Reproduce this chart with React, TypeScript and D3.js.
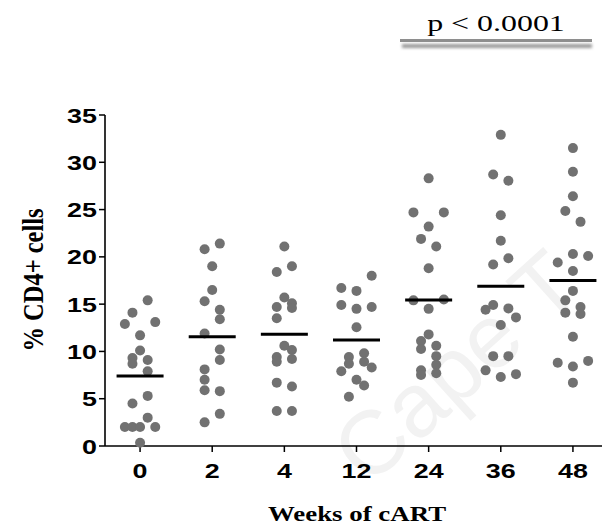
import React from "react";
import * as d3 from "d3";

// Categories (weeks of cART)
const weeks = ["0", "2", "4", "12", "24", "36", "48"];

// % CD4+ cells per patient at each time point
const cd4Week0 = [15.4, 14.1, 12.9, 13.1, 11.7, 10.1, 9.3, 8.7, 9.1, 7.9, 5.3, 4.5, 3.0, 2.0, 2.0, 2.0, 2.0, 0.35];
const cd4Week2 = [21.4, 20.8, 19.0, 16.5, 15.3, 14.4, 13.4, 11.9, 10.2, 9.1, 8.1, 7.0, 5.9, 5.8, 3.4, 2.5];
const cd4Week4 = [21.1, 19.0, 18.4, 15.7, 15.1, 14.6, 14.7, 13.5, 10.6, 10.15, 9.4, 8.9, 9.2, 6.7, 6.3, 3.7, 3.7];
const cd4Week12 = [18.0, 16.7, 16.4, 14.9, 14.7, 14.5, 12.55, 9.8, 9.4, 8.9, 8.7, 8.3, 7.9, 7.0, 6.4, 5.2];
const cd4Week24 = [28.3, 24.7, 24.7, 23.2, 21.9, 21.1, 18.8, 15.4, 15.5, 14.5, 11.8, 11.1, 10.25, 10.6, 9.5, 8.6, 8.0, 7.5, 7.7];
const cd4Week36 = [32.9, 28.7, 28.05, 24.4, 21.7, 19.85, 19.2, 14.9, 14.4, 14.55, 13.6, 12.8, 9.5, 9.5, 8.0, 7.3, 7.6];
const cd4Week48 = [31.5, 29.0, 26.4, 24.85, 23.7, 20.3, 20.1, 19.4, 18.5, 16.4, 15.4, 14.7, 14.1, 13.95, 11.55, 8.8, 9.0, 8.4, 6.7];

// scatter lane (horizontal spread slot) of each point, as in the dot plot
const laneWeek0 = [1, -1, -2, 2, 0, 0, -1, -1, 1, 1, 1, -1, 1, -2, -1, 0, 2, 0];
const laneWeek2 = [1, -1, 0, 0, -1, 1, 1, -1, 1, 1, -1, -1, -1, 1, 1, -1];
const laneWeek4 = [0, 1, -1, 0, 1, 1, -1, -1, 0, 1, -1, -1, 1, -1, 1, -1, 1];
const laneWeek12 = [2, -2, 0, -2, 2, 0, 0, 1, -1, 1, -1, 2, -2, 0, 1, -1];
const laneWeek24 = [0, -2, 2, 0, -1, 1, 0, -2, 2, 0, 0, -1, -1, 1, 1, 1, -1, -1, 1];
const laneWeek36 = [0, -1, 1, 0, 0, 1, -1, -1, -2, 1, 2, 0, -1, 1, -2, 0, 2];
const laneWeek48 = [0, 0, 0, -1, 1, 0, 2, -2, 0, 0, -1, 1, -1, 1, 0, -2, 2, 0, 0];

const yTicks = [0, 5, 10, 15, 20, 25, 30, 35];
const pLabel = "p < 0.0001";
const xTitle = "Weeks of cART";
const yTitle = "% CD4+ cells";
const watermark = "Cape T";

const allValues = [cd4Week0, cd4Week2, cd4Week4, cd4Week12, cd4Week24, cd4Week36, cd4Week48];
const allLanes = [laneWeek0, laneWeek2, laneWeek4, laneWeek12, laneWeek24, laneWeek36, laneWeek48];

const SANS = "'Liberation Sans', Arial, sans-serif";
const SERIF = "'Liberation Serif', 'Times New Roman', serif";
const SX = 1.28; // horizontal stretch of the original figure's text

export default function App() {
  const W = 602;
  const H = 529;
  const x = d3.scalePoint<string>().domain(weeks).range([104, 609]).padding(0.5);
  const y = d3.scaleLinear().domain([0, 35]).range([446, 115]);
  const laneStep = 7.6;
  const meanHalf = 23.5;
  const x0 = 105;

  const groups = weeks.map((w, i) => ({
    week: w,
    values: allValues[i],
    lanes: allLanes[i],
    mean: d3.mean(allValues[i]) as number,
  }));

  return (
    <svg
      width={W}
      height={H}
      style={{ position: "absolute", left: 0, top: 0, display: "block", background: "#fff" }}
    >
      <defs>
        <filter id="blur" x="-10%" y="-200%" width="120%" height="500%">
          <feGaussianBlur stdDeviation="1.6" />
        </filter>
      </defs>

      {/* faint watermark */}
      <text
        transform="translate(368,488) rotate(-42)"
        fontFamily={SANS}
        fontSize={90}
        fill="#f2f2f2"
      >
        {watermark}
      </text>

      {/* p-value annotation */}
      <text
        transform={`translate(496,31) scale(1.33,1)`}
        textAnchor="middle"
        fontFamily={SERIF}
        fontSize={24}
        fill="#000"
      >
        {pLabel}
      </text>
      <rect x={402} y={44} width={190} height={4} fill="#9a9a9a" filter="url(#blur)" />
      <rect x={400} y={39} width={192} height={3} fill="#8e8e8e" />

      {/* y axis */}
      <line x1={x0} x2={x0} y1={y(35)} y2={y(0)} stroke="#000" strokeWidth={1.6} />
      {yTicks.map((t) => (
        <g key={t}>
          <line x1={x0 - 6} x2={x0} y1={y(t)} y2={y(t)} stroke="#000" strokeWidth={1.5} />
          <text
            transform={`translate(97,${y(t)}) scale(${SX},1)`}
            dy="0.36em"
            textAnchor="end"
            fontFamily={SANS}
            fontWeight="bold"
            fontSize={21}
          >
            {t}
          </text>
        </g>
      ))}

      {/* x axis */}
      <line x1={x0} x2={W} y1={y(0)} y2={y(0)} stroke="#000" strokeWidth={1.6} />
      {weeks.map((w) => (
        <g key={w}>
          <line x1={x(w)} x2={x(w)} y1={y(0)} y2={y(0) + 6} stroke="#000" strokeWidth={1.5} />
          <text
            transform={`translate(${x(w)},478) scale(${SX},1)`}
            textAnchor="middle"
            fontFamily={SANS}
            fontWeight="bold"
            fontSize={21}
          >
            {w}
          </text>
        </g>
      ))}

      {/* titles */}
      <text
        transform={`translate(357,521) scale(${SX},1)`}
        textAnchor="middle"
        fontFamily={SERIF}
        fontWeight="bold"
        fontSize={21}
      >
        {xTitle}
      </text>
      <text
        transform={`translate(43,280) rotate(-90) scale(1,1.2)`}
        textAnchor="middle"
        fontFamily={SERIF}
        fontWeight="bold"
        fontSize={24.5}
      >
        {yTitle}
      </text>

      {/* points */}
      {groups.map((g) => (
        <g key={g.week}>
          {g.values.map((v, j) => (
            <circle
              key={j}
              cx={(x(g.week) as number) + g.lanes[j] * laneStep}
              cy={y(v)}
              r={5}
              fill="#717171"
            />
          ))}
          <line
            x1={(x(g.week) as number) - meanHalf}
            x2={(x(g.week) as number) + meanHalf}
            y1={y(g.mean)}
            y2={y(g.mean)}
            stroke="#000"
            strokeWidth={3}
          />
        </g>
      ))}
    </svg>
  );
}
